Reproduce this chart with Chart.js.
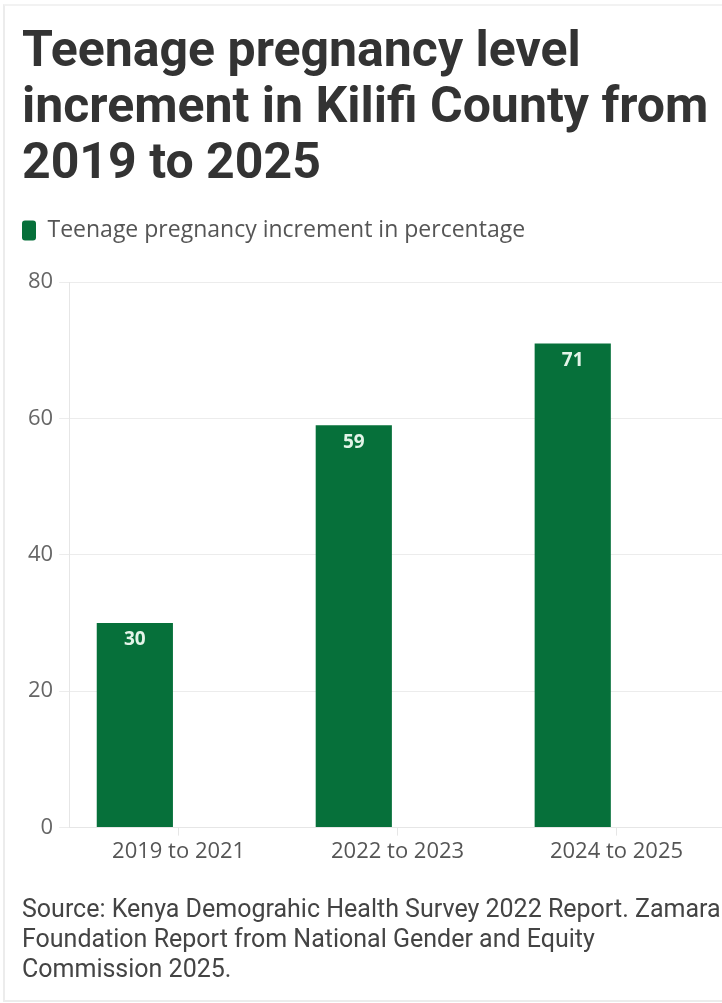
<!DOCTYPE html>
<html>
<head>
<meta charset="utf-8">
<script src="https://cdn.jsdelivr.net/npm/chart.js@4.4.1/dist/chart.umd.min.js"></script>
<style>
  html, body { margin: 0; padding: 0; background: #fff; overflow: hidden; }
  #wrap { position: absolute; left: 0; top: 0; width: 732px; height: 1003px; }
  #frame { position: absolute; left: 3px; top: 4px; width: 730px; height: 994px;
           border-left: 2px solid #ececec; border-top: 2px solid #f2f2f2; border-bottom: 2px solid #ececec; }
</style>
</head>
<body>
<div id="frame"></div>
<div id="wrap"><canvas id="chart" width="732" height="1003"></canvas></div>
<script>
// categories and values
const periods = ["2019 to 2021", "2022 to 2023", "2024 to 2025"];
const increment = [30, 59, 71];
// empty second slot in each group (keeps bars on the left of each period)
const spacer = [null, null, null];
const yTicks = [0, 20, 40, 60, 80];

const titleLines = ["Teenage pregnancy level", "increment in Kilifi County from", "2019 to 2025"];
const sourceLines = [
  "Source: Kenya Demograhic Health Survey 2022 Report. Zamara",
  "Foundation Report from National Gender and Equity",
  "Commission 2025."
];

const green = "#06703a";

// white value labels inside the top of each bar
const barValues = {
  id: "barValues",
  afterDatasetsDraw(chart) {
    const ctx = chart.ctx;
    const meta = chart.getDatasetMeta(0);
    ctx.save();
    ctx.fillStyle = "#e3f4e8";
    ctx.font = "bold 19px 'Open Sans'";
    ctx.textAlign = "center";
    ctx.textBaseline = "middle";
    meta.data.forEach((bar, i) => {
      ctx.fillText(String(increment[i]), bar.x, bar.y + 17);
    });
    ctx.restore();
  }
};

// extra room between the legend and the plot
const legendGap = {
  id: "legendGap",
  beforeInit(chart) {
    const fit = chart.legend.fit;
    chart.legend.fit = function () {
      fit.bind(chart.legend)();
      this.height += 30;
    };
  }
};

new Chart("chart", {
  type: "bar",
  data: {
    labels: periods,
    datasets: [
      { label: "Teenage pregnancy increment in percentage", data: increment,
        backgroundColor: green, barPercentage: 0.87, categoryPercentage: 0.8 },
      { label: "spacer", data: spacer, backgroundColor: green,
        barPercentage: 0.87, categoryPercentage: 0.8 }
    ]
  },
  options: {
    responsive: false,
    animation: false,
    devicePixelRatio: 1,
    layout: { padding: { left: 22, right: 6, top: 0, bottom: 17 } },
    plugins: {
      tooltip: { enabled: false },
      title: {
        display: true, text: titleLines, align: "start", color: "#333",
        font: { family: "Roboto", size: 50, weight: "bold", lineHeight: 1.12 },
        padding: { top: 25, bottom: 26 }
      },
      legend: {
        display: true, align: "start",
        labels: {
          filter: (item) => item.datasetIndex === 0,
          boxWidth: 14, boxHeight: 20, useBorderRadius: true, borderRadius: 3,
          color: "#555", font: { family: "Open Sans", size: 23 }, padding: 0
        }
      },
      subtitle: {
        display: true, position: "bottom", text: sourceLines, align: "start", color: "#444",
        font: { family: "Roboto", size: 25, lineHeight: 1.2 },
        padding: { top: 28, bottom: 0 }
      }
    },
    scales: {
      x: {
        grid: { drawOnChartArea: false, offset: false, tickLength: 8, color: "#e6e6e6" },
        border: { color: "#e6e6e6" },
        ticks: { color: "#555", font: { family: "Open Sans", size: 22 }, padding: 3 }
      },
      y: {
        min: 0, max: 80,
        afterBuildTicks: (axis) => { axis.ticks = yTicks.map(v => ({ value: v })); },
        grid: { color: "#ececec", tickLength: 10 },
        border: { color: "#e6e6e6" },
        ticks: { color: "#666", font: { family: "Open Sans", size: 22 }, padding: 6 }
      }
    }
  },
  plugins: [barValues, legendGap]
});
</script>
</body>
</html>
